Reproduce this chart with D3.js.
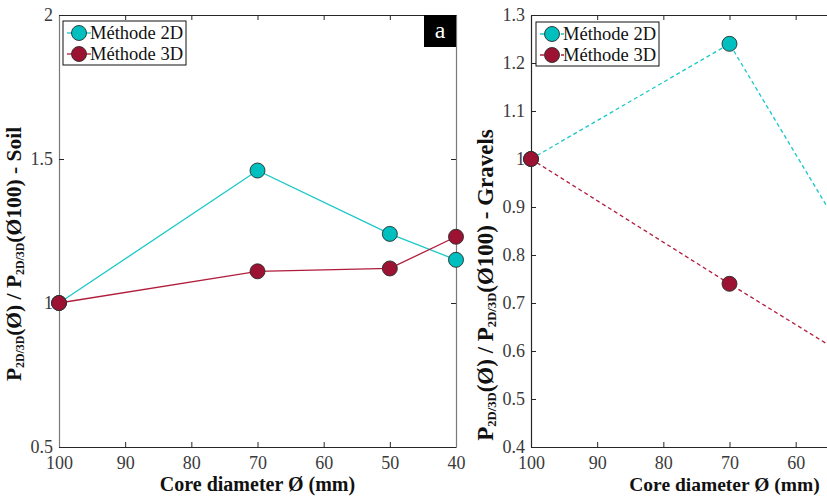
<!DOCTYPE html>
<html>
<head>
<meta charset="utf-8">
<script src="https://cdn.jsdelivr.net/npm/d3@7"></script>
<style>
  body { margin: 0; background: #fff; }
</style>
</head>
<body>
<svg id="chart" width="827" height="497"></svg>
<script>
// data
var diameters = [100, 70, 50, 40];
var xTicks = [100, 90, 80, 70, 60, 50, 40];

var soil2D = [1, 1.46, 1.24, 1.15];
var soil3D = [1, 1.11, 1.12, 1.23];
var soilTicks = [0.5, 1, 1.5, 2];

var gravels2D = [1, 1.24, 0.78, 0.72];
var gravels3D = [1, 0.74, 0.57, 0.52];
var gravelsTicks = [0.4, 0.5, 0.6, 0.7, 0.8, 0.9, 1, 1.1, 1.2, 1.3];

var seriesNames = ["Méthode 2D", "Méthode 3D"];

var cyanLine = "#1cc8c8", cyanFill = "#00bfbf";
var redLine = "#b01c3c", redFill = "#9c1232";
var serif = "Liberation Serif";

var svg = d3.select("#chart");
var svgWidth = 827;
var width = 397, height = 432;

function panel(opts) {
    var g = svg.append("g").attr("transform", "translate(" + opts.left + "," + opts.top + ")");

    var x = d3.scaleLinear().domain([100, 40]).range([0, width]);
    var y = d3.scaleLinear().domain(opts.yDomain).range([height, 0]);

    // box + inward ticks
    var bottom = g.append("g").attr("transform", "translate(0," + height + ")")
        .call(d3.axisBottom(x).tickValues(xTicks).tickSizeInner(-5).tickSizeOuter(0).tickPadding(9));
    var top = g.append("g")
        .call(d3.axisTop(x).tickValues(xTicks).tickSizeInner(-5).tickSizeOuter(0).tickFormat(""));
    var leftAx = g.append("g")
        .call(d3.axisLeft(y).tickValues(opts.yTicks).tickSizeInner(-5).tickSizeOuter(0).tickPadding(6)
            .tickFormat(function (d) { return String(+d.toFixed(1)); }));
    var rightAx = g.append("g").attr("transform", "translate(" + width + ",0)")
        .call(d3.axisRight(y).tickValues(opts.yTicks).tickSizeInner(-5).tickSizeOuter(0).tickFormat(""));

    // labels that fall past the window edge are not visible in the figure
    bottom.selectAll(".tick text")
        .filter(function (d) { return opts.left + x(d) + 10 > svgWidth; })
        .remove();

    [bottom, top].forEach(function (a) {
        a.select(".domain").attr("stroke", "#262626").attr("stroke-width", 1.2);
        a.selectAll(".tick line").attr("stroke", "#262626");
    });
    [leftAx, rightAx].forEach(function (a) {
        a.select(".domain").attr("stroke", opts.vColor).attr("stroke-width", 1.2);
        a.selectAll(".tick line").attr("stroke", "#262626");
    });
    [bottom, top, leftAx, rightAx].forEach(function (a) {
        a.attr("font-family", serif).attr("font-size", 18);
    });
    g.selectAll(".tick text").attr("fill", "#3a3a3a");

    // series
    var line = d3.line().x(function (d, i) { return x(diameters[i]); }).y(function (d) { return y(d); });
    var series = [
        {vals: opts.s2D, lc: cyanLine, fc: cyanFill},
        {vals: opts.s3D, lc: redLine, fc: redFill}
    ];
    series.forEach(function (s) {
        g.append("path").datum(s.vals)
            .attr("d", line)
            .attr("fill", "none")
            .attr("stroke", s.lc)
            .attr("stroke-width", 1.3)
            .attr("stroke-dasharray", opts.dashed ? "4,3" : null);
    });
    series.forEach(function (s) {
        g.selectAll(null).data(s.vals).enter().append("circle")
            .attr("cx", function (d, i) { return x(diameters[i]); })
            .attr("cy", function (d) { return y(d); })
            .attr("r", 7.5)
            .attr("fill", s.fc)
            .attr("stroke", "#2b2b2b")
            .attr("stroke-width", 0.9);
    });

    // legend
    var lg = g.append("g").attr("transform", "translate(" + opts.legX + "," + opts.legY + ")");
    lg.append("rect").attr("width", 123).attr("height", 44)
        .attr("fill", "#fff").attr("stroke", "#111").attr("stroke-width", 1);
    series.forEach(function (s, i) {
        var yy = 12 + i * 21;
        lg.append("line").attr("x1", 4).attr("x2", 28).attr("y1", yy).attr("y2", yy)
            .attr("stroke", s.lc).attr("stroke-width", 1.3)
            .attr("stroke-dasharray", opts.dashed ? "4,3" : null);
        lg.append("circle").attr("cx", 16).attr("cy", yy).attr("r", 7.5)
            .attr("fill", s.fc).attr("stroke", "#2b2b2b").attr("stroke-width", 0.9);
        lg.append("text").attr("x", 27).attr("y", yy + 6)
            .attr("font-family", serif)
            .attr("font-size", 18.5).attr("fill", "#111")
            .text(seriesNames[i]);
    });

    // x title
    g.append("text")
        .attr("x", width / 2 + opts.xTitleShift).attr("y", height + 44)
        .attr("text-anchor", "middle")
        .attr("font-family", serif)
        .attr("font-size", opts.xTitleSize).attr("font-weight", "bold").attr("fill", "#111")
        .text("Core diameter Ø (mm)");

    // y title
    var fs = opts.yTitleSize;
    var yt = g.append("text")
        .attr("transform", "translate(" + opts.yTitleX + "," + opts.yTitleY + ") rotate(-90)")
        .attr("text-anchor", "middle")
        .attr("font-family", serif)
        .attr("font-size", fs).attr("font-weight", "bold").attr("fill", "#111");
    yt.append("tspan").text("P");
    yt.append("tspan").attr("font-size", fs * 0.55).attr("dy", 3).text("2D/3D");
    yt.append("tspan").attr("dy", -3).text("(Ø) / P");
    yt.append("tspan").attr("font-size", fs * 0.55).attr("dy", 3).text("2D/3D");
    yt.append("tspan").attr("dy", -3).text("(Ø100) - " + opts.name);

    if (opts.tag) {
        g.append("rect").attr("x", width - 32).attr("y", 0).attr("width", 32).attr("height", 32).attr("fill", "#000");
        g.append("text").attr("x", width - 16).attr("y", 23).attr("text-anchor", "middle")
            .attr("font-family", serif)
            .attr("font-size", 24).attr("fill", "#fff").text(opts.tag);
    }
}

panel({left: 59, top: 15, yDomain: [0.5, 2], yTicks: soilTicks, s2D: soil2D, s3D: soil3D,
       dashed: false, vColor: "#7a7a7a", legX: 4, legY: 6, yTitleX: -38, yTitleY: 239, yTitleSize: 21.5,
       xTitleSize: 20, xTitleShift: 0, name: "Soil", tag: "a"});
panel({left: 531, top: 15, yDomain: [0.4, 1.3], yTicks: gravelsTicks, s2D: gravels2D, s3D: gravels3D,
       dashed: true, vColor: "#262626", legX: 5, legY: 7, yTitleX: -38, yTitleY: 270, yTitleSize: 23,
       xTitleSize: 19.5, xTitleShift: -5, name: "Gravels", tag: null});
</script>
</body>
</html>
